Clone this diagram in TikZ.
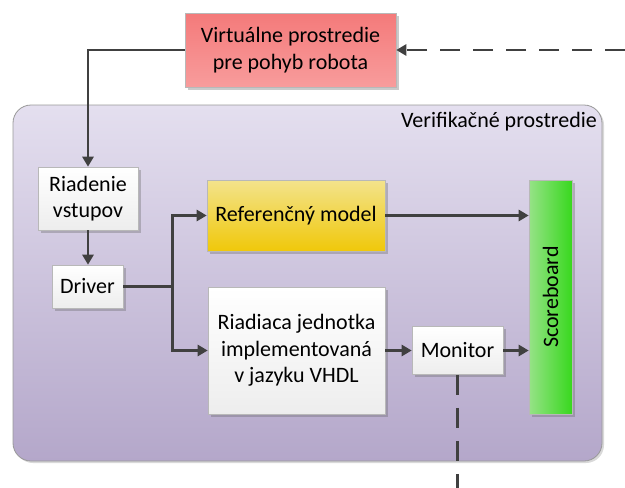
\documentclass[tikz,border=0pt]{standalone}
\usepackage{fontspec}
\setmainfont{Carlito}
\usetikzlibrary{arrows.meta,shadows,calc}
\definecolor{linegray}{HTML}{404040}
\definecolor{boxedge}{HTML}{B8B8B8}
\tikzset{
  blk/.style={draw=boxedge, line width=0.6pt, align=center, inner sep=2pt,
    font=\fontsize{22}{26.5}\selectfont,
    drop shadow={shadow xshift=2.5pt, shadow yshift=-2.5pt, opacity=0.35, fill=black!60}},
  whiteblk/.style={blk, top color=white, bottom color=black!7},
  wire/.style={draw=linegray, line width=2.7pt},
  arr/.style={wire, -{Triangle[length=10pt,width=11pt]}},
  dashwire/.style={arr, dash pattern=on 20pt off 13pt}
}
\begin{document}
\begin{tikzpicture}[x=1pt,y=-1pt]
\useasboundingbox (0,0) rectangle (625,488);

% verification environment frame
\node[draw=black!40, line width=0.8pt, rounded corners=18pt,
      top color={rgb,255:red,228;green,223;blue,239},
      bottom color={rgb,255:red,180;green,167;blue,202},
      drop shadow={shadow xshift=2pt, shadow yshift=-2pt, opacity=0.3},
      minimum width=589pt, minimum height=356pt, inner sep=0pt]
  (env) at (307.5,283) {};
\node[anchor=north east, font=\fontsize{22}{26}\selectfont, inner sep=0pt]
  (envlabel) at (597,112) {Verifikačné prostredie};

% blocks
\node[blk, top color={rgb,255:red,244;green,122;blue,122},
      bottom color={rgb,255:red,248;green,156;blue,156},
      minimum width=211pt, minimum height=74pt]
  (virt) at (290.5,50) {Virtuálne prostredie\\pre pohyb robota};
\node[whiteblk, minimum width=100pt, minimum height=63pt]
  (riad) at (88,198.5) {Riadenie\\vstupov};
\node[whiteblk, minimum width=71pt, minimum height=43pt]
  (drv) at (87.5,286.5) {Driver};
\node[blk, top color={rgb,255:red,243;green,227;blue,140},
      bottom color={rgb,255:red,240;green,200;blue,10},
      minimum width=178pt, minimum height=71pt]
  (ref) at (296,215.5) {Referenčný model};
\node[whiteblk, minimum width=177pt, minimum height=127pt]
  (rj) at (296.5,350.5) {Riadiaca jednotka\\implementovaná\\v jazyku VHDL};
\node[whiteblk, minimum width=91pt, minimum height=48pt]
  (mon) at (457.5,350.5) {Monitor};
\node[blk, left color={rgb,255:red,150;green,226;blue,135},
      right color={rgb,255:red,56;green,216;blue,30},
      minimum width=43pt, minimum height=234pt]
  (sb) at (550.5,297) {};
\node[rotate=90, font=\fontsize{22}{26}\selectfont] (sblabel) at (sb.center) {Scoreboard};

% connectors
\coordinate (ext) at (625,50);
\coordinate (down) at (457.5,488);
\coordinate (j) at ($(drv.east)+(49,0)$);

\draw[dashwire] (ext) -- (virt.east);
\draw[arr] (virt.west) -| (riad.north);
\draw[arr] (riad.south) -- (riad.south |- drv.north);
\draw[wire] (drv.east) -- (j);
\draw[arr] (j) |- (ref.west);
\draw[arr] (j) |- (rj.west);
\draw[arr] (ref.east) -- (ref.east -| sb.west);
\draw[arr] (rj.east) -- (mon.west);
\draw[arr] (mon.east) -- (mon.east -| sb.west);
\draw[wire, dash pattern=on 20pt off 13pt] (mon.south) -- (down);
\end{tikzpicture}
\end{document}
